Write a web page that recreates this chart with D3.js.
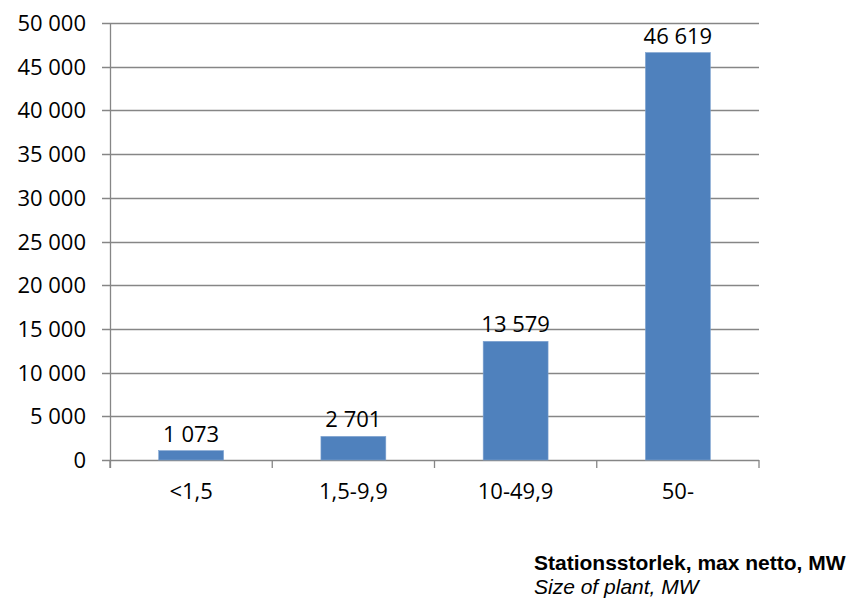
<!DOCTYPE html>
<html>
<head>
<meta charset="utf-8">
<script src="https://cdn.jsdelivr.net/npm/d3@7"></script>
<style>
  body { margin: 0; background: #fff; }
  text { font-family: "Open Sans", "Lato", sans-serif; fill: #000; }
</style>
</head>
<body>
<div id="g"></div>
<script>
// data
var categories = ["<1,5", "1,5-9,9", "10-49,9", "50-"];
var values = [1073, 2701, 13579, 46619];
var valueLabels = ["1 073", "2 701", "13 579", "46 619"];
var yTicks = [0, 5000, 10000, 15000, 20000, 25000, 30000, 35000, 40000, 45000, 50000];

var WIDTH = 852, HEIGHT = 600;
var LEFT = 110, RIGHT = 759, TOP = 23, BOTTOM = 460;
var BAR_FILL = "#4F81BD";
var GRID = "#868686";
var FONT_SIZE = 22;

var svg = d3.select("#g").append("svg")
    .attr("width", WIDTH)
    .attr("height", HEIGHT);

var x = d3.scaleBand()
    .domain(categories)
    .range([LEFT, RIGHT])
    .paddingInner(0.6)
    .paddingOuter(0.3);

var y = d3.scaleLinear()
    .domain([0, 50000])
    .range([BOTTOM, TOP]);

var fmt = function(v) { return d3.format(",")(v).replace(/,/g, " "); };

// gridlines + y ticks
svg.append("g").selectAll("line")
    .data(yTicks)
    .enter().append("line")
    .attr("x1", LEFT - 8)
    .attr("x2", RIGHT)
    .attr("y1", function(d) { return Math.round(y(d)) + 0.5; })
    .attr("y2", function(d) { return Math.round(y(d)) + 0.5; })
    .attr("stroke", GRID)
    .attr("stroke-width", 1.3);

svg.append("g").selectAll("text")
    .data(yTicks)
    .enter().append("text")
    .attr("x", LEFT - 24)
    .attr("y", function(d) { return y(d) + 8; })
    .attr("text-anchor", "end")
    .attr("font-size", FONT_SIZE)
    .text(fmt);

// y axis line
svg.append("line")
    .attr("x1", LEFT + 0.5).attr("x2", LEFT + 0.5)
    .attr("y1", TOP).attr("y2", BOTTOM + 8)
    .attr("stroke", GRID).attr("stroke-width", 1.3);

// category ticks at band edges
var catTicks = d3.range(categories.length + 1).map(function(i) {
    return LEFT + i * (RIGHT - LEFT) / categories.length;
});
svg.append("g").selectAll("line")
    .data(catTicks)
    .enter().append("line")
    .attr("x1", function(d) { return d; })
    .attr("x2", function(d) { return d; })
    .attr("y1", BOTTOM)
    .attr("y2", BOTTOM + 8)
    .attr("stroke", GRID).attr("stroke-width", 1.3);

// bars
svg.append("g").selectAll("rect")
    .data(values)
    .enter().append("rect")
    .attr("x", function(d, i) { return x(categories[i]); })
    .attr("y", function(d) { return y(d); })
    .attr("width", x.bandwidth())
    .attr("height", function(d) { return BOTTOM - y(d); })
    .attr("fill", BAR_FILL)
    .attr("stroke", "#7fa3d0")
    .attr("stroke-width", 0.6);

// value labels
svg.append("g").selectAll("text")
    .data(values)
    .enter().append("text")
    .attr("x", function(d, i) { return x(categories[i]) + x.bandwidth() / 2; })
    .attr("y", function(d) { return y(d) - 9; })
    .attr("text-anchor", "middle")
    .attr("font-size", FONT_SIZE)
    .text(function(d, i) { return valueLabels[i]; });

// category labels
svg.append("g").selectAll("text")
    .data(categories)
    .enter().append("text")
    .attr("x", function(d) { return x(d) + x.bandwidth() / 2; })
    .attr("y", 499)
    .attr("text-anchor", "middle")
    .attr("font-size", FONT_SIZE)
    .text(function(d) { return d; });

// axis title
svg.append("text")
    .attr("x", 534).attr("y", 570)
    .style("font-family", "'Liberation Sans', Arial, sans-serif")
    .attr("font-weight", "bold")
    .attr("font-size", 21)
    .text("Stationsstorlek, max netto, MW");

svg.append("text")
    .attr("x", 534).attr("y", 594)
    .style("font-family", "'Liberation Sans', Arial, sans-serif")
    .attr("font-style", "italic")
    .attr("font-size", 21)
    .text("Size of plant, MW");
</script>
</body>
</html>
